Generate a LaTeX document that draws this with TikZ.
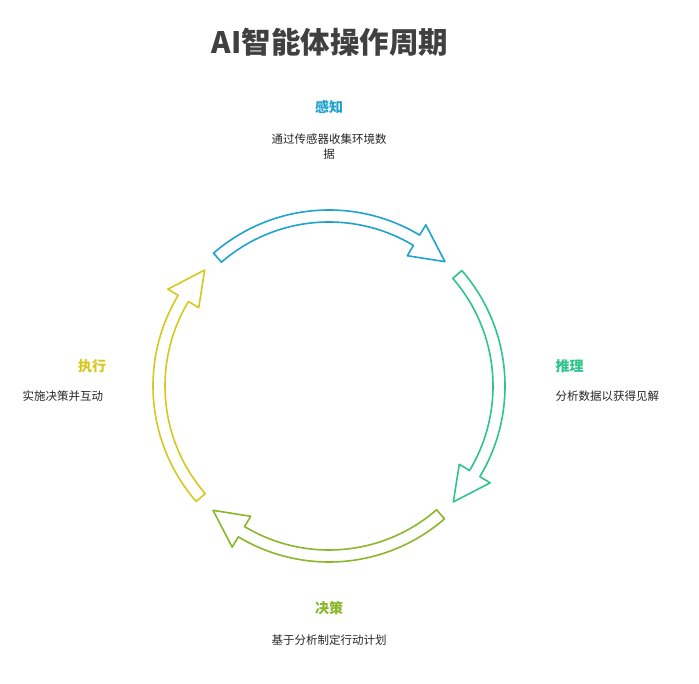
\documentclass[tikz,border=0pt]{standalone}
\usepackage{fontspec}
\setmainfont{Noto Sans CJK SC}
\begin{document}
\begin{tikzpicture}[x=1pt,y=1pt,
  ttl/.style={font=\bfseries\fontsize{14}{16}\selectfont},
  dsc/.style={font=\fontsize{11.5}{15}\selectfont, text=black!85, align=center}]
\useasboundingbox[fill=white] (0,0) rectangle (699,-684);
\definecolor{cA}{HTML}{1FA3CC}
\definecolor{cB}{HTML}{2EC48C}
\definecolor{cC}{HTML}{8AB82A}
\definecolor{cD}{HTML}{D6C81E}
\def\R{176}\def\r{164}\def\w{12}
\newcommand\cycarrow[4]{% color, start, base, tip
  \draw[#1, line width=1.6pt, fill=white, line join=round]
    (#2:\R) arc[start angle=#2, end angle=#3, radius=\R]
    -- (#3:\R+\w) -- (#4:{(\R+\r)/2}) -- (#3:\r-\w) -- (#3:\r)
    arc[start angle=#3, end angle=#2, radius=\r] -- cycle;}
\begin{scope}[shift={(329,-386)}]
\cycarrow{cA}{131}{59}{47}
\cycarrow{cB}{41}{-31}{-43}
\cycarrow{cC}{-49}{-121}{-133}
\cycarrow{cD}{-139}{-211}{-223}
\end{scope}
\node[font=\bfseries\fontsize{29.5}{32}\selectfont, text=black!75] (title) at (330,-42) {AI智能体操作周期};
\node[ttl, text=cA] (t1) at (329,-107) {感知};
\node[dsc] (d1) at (329,-147) {通过传感器收集环境数\\据};
\node[ttl, text=cB, anchor=west] (t2) at (552,-366) {推理};
\node[dsc, anchor=west] (d2) at (552,-396) {分析数据以获得见解};
\node[ttl, text=cC] (t3) at (329,-608) {决策};
\node[dsc] (d3) at (329,-640) {基于分析制定行动计划};
\node[ttl, text=cD] (t4) at (92,-366) {执行};
\node[dsc, anchor=west] (d4) at (19,-396) {实施决策并互动};
\end{tikzpicture}
\end{document}
